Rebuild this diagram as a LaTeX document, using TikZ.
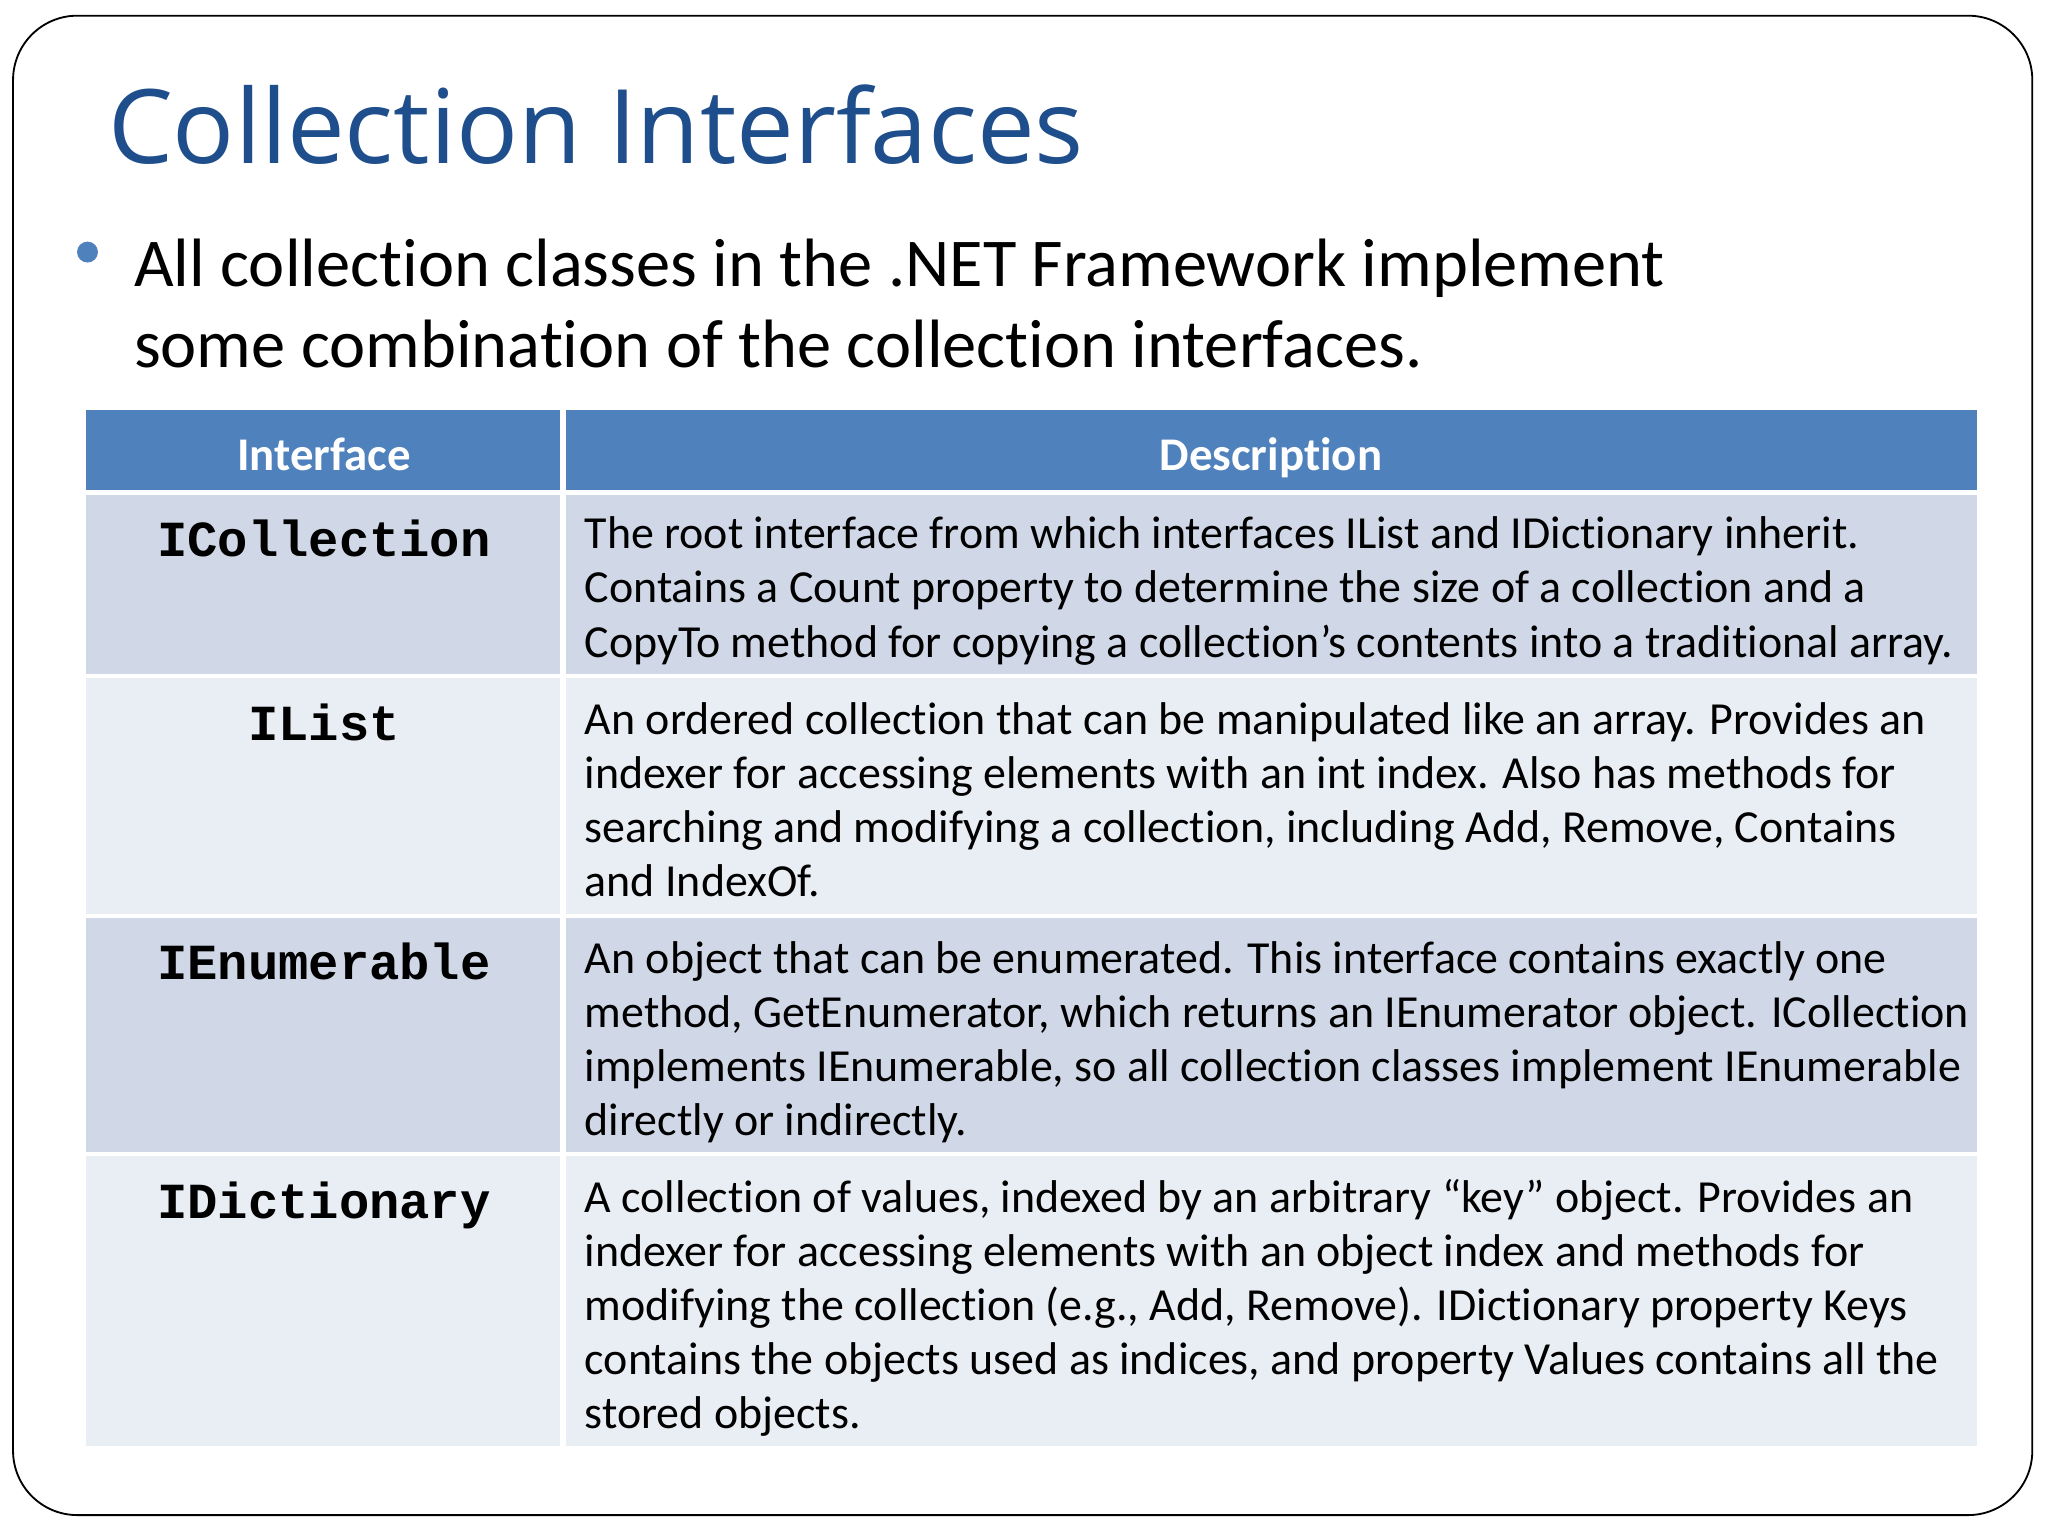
\documentclass[tikz,border=0pt]{standalone}
\usepackage{fontspec}
\setmainfont{Carlito}[Ligatures={NoCommon}]
\newfontfamily\titlefont{Open Sans}
\newfontfamily\codefont{Liberation Mono}
\definecolor{hdr}{HTML}{4F81BD}
\definecolor{rowa}{HTML}{D0D8E8}
\definecolor{rowb}{HTML}{E9EDF4}
\definecolor{ttl}{HTML}{1F4E8C}
\tikzset{
  desc/.style={anchor=north west,align=left,inner sep=0pt,font=\fontsize{10pt}{11.8pt}\selectfont},
  iname/.style={anchor=north,inner sep=0pt,font=\codefont\bfseries\fontsize{11pt}{12pt}\selectfont},
  head/.style={anchor=base,inner sep=0pt,text=white,font=\bfseries\fontsize{10.2pt}{12pt}\selectfont}
}
\begin{document}
\begin{tikzpicture}[x=0.01cm,y=-0.01cm]
\useasboundingbox (0,0) rectangle (1568,1176);
\fill[white] (0,0) rectangle (1568,1176);
\draw[line width=0.4pt,rounded corners=14pt] (10,12) rectangle (1556,1160);
\node[anchor=base west,inner sep=0pt,text=ttl,font=\titlefont\fontsize{22.4pt}{26pt}\selectfont] (title) at (82,125) {Collection Interfaces};
\fill[hdr] (67,193) circle (8);
\node[anchor=north west,align=left,inner sep=0pt,font=\fontsize{14.9pt}{17.8pt}\selectfont] (bullet) at (102,182) {All collection classes in the .NET Framework implement\\some combination of the collection interfaces.};
% table
\fill[hdr] (66,314) rectangle (429,375);
\fill[hdr] (433,314) rectangle (1514,375);
\fill[rowa] (66,379) rectangle (429,516);
\fill[rowa] (433,379) rectangle (1514,516);
\fill[rowb] (66,519) rectangle (429,700);
\fill[rowb] (433,519) rectangle (1514,700);
\fill[rowa] (66,703) rectangle (429,882);
\fill[rowa] (433,703) rectangle (1514,882);
\fill[rowb] (66,885) rectangle (429,1107);
\fill[rowb] (433,885) rectangle (1514,1107);
\node[head] (h1) at (248,360) {Interface};
\node[head] (h2) at (973,360) {Description};
\node[iname] (i1) at (248,397) {ICollection};
\node[iname] (i2) at (248,538) {IList};
\node[iname] (i3) at (248,721) {IEnumerable};
\node[iname] (i4) at (248,904) {IDictionary};
\node[desc] (d1) at (447,395) {The root interface from which interfaces IList and IDictionary inherit.\\Contains a Count property to determine the size of a collection and a\\CopyTo method for copying a collection’s contents into a traditional array.};
\node[desc] (d2) at (447,537) {An ordered collection that can be manipulated like an array. Provides an\\indexer for accessing elements with an int index. Also has methods for\\searching and modifying a collection, including Add, Remove, Contains\\and IndexOf.};
\node[desc] (d3) at (447,720) {An object that can be enumerated. This interface contains exactly one\\method, GetEnumerator, which returns an IEnumerator object. ICollection\\implements IEnumerable, so all collection classes implement IEnumerable\\directly or indirectly.};
\node[desc] (d4) at (447,902) {A collection of values, indexed by an arbitrary “key” object. Provides an\\indexer for accessing elements with an object index and methods for\\modifying the collection (e.g., Add, Remove). IDictionary property Keys\\contains the objects used as indices, and property Values contains all the\\stored objects.};
\end{tikzpicture}
\end{document}
